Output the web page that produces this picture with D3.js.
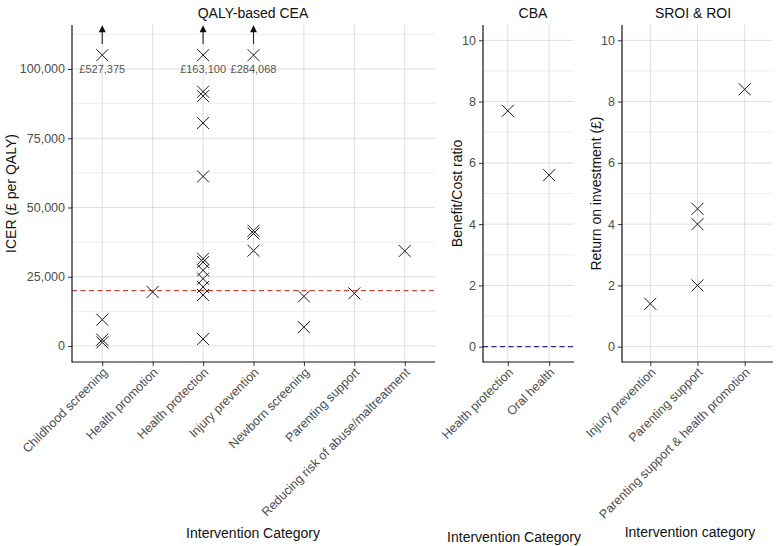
<!DOCTYPE html>
<html><head><meta charset="utf-8">
<script src="https://cdn.jsdelivr.net/npm/d3@7"></script>
<style>
body{margin:0;background:#fff}
text{font-family:"Liberation Sans",Arial,Helvetica,sans-serif}
</style>
</head><body>
<svg id="chart" width="778" height="546"></svg>
<script>
// ---------- DATA ----------
const ceaCategories = ["Childhood screening","Health promotion","Health protection","Injury prevention","Newborn screening","Parenting support","Reducing risk of abuse/maltreatment"];
// [category, ICER (£ per QALY)]
const ceaPoints = [
  ["Childhood screening", 9500], ["Childhood screening", 2300], ["Childhood screening", 1300],
  ["Health promotion", 19500],
  ["Health protection", 91800], ["Health protection", 90200], ["Health protection", 80500], ["Health protection", 61200],
  ["Health protection", 31500], ["Health protection", 30300], ["Health protection", 27300], ["Health protection", 24300],
  ["Health protection", 21300], ["Health protection", 18400], ["Health protection", 2500],
  ["Injury prevention", 41600], ["Injury prevention", 40600], ["Injury prevention", 34400],
  ["Newborn screening", 17900], ["Newborn screening", 6800],
  ["Parenting support", 19000],
  ["Reducing risk of abuse/maltreatment", 34300]
];
// off-scale values, drawn at the cap with an arrow
const ceaOffScale = [["Childhood screening","£527,375"],["Health protection","£163,100"],["Injury prevention","£284,068"]];
const ceaCapValue = 105000;
const ceaArrowFrom = 109000, ceaArrowTo = 115800;
const ceaThreshold = 20000;
const ceaTicks = [0, 25000, 50000, 75000, 100000];
const ceaMinorTicks = [12500, 37500, 62500, 87500, 112500];

const cbaCategories = ["Health protection","Oral health"];
const cbaPoints = [["Health protection", 7.7], ["Oral health", 5.6]];
const cbaThreshold = 0;

const sroiCategories = ["Injury prevention","Parenting support","Parenting support & health promotion"];
const sroiPoints = [["Injury prevention", 1.4], ["Parenting support", 2.0], ["Parenting support", 4.0], ["Parenting support", 4.5], ["Parenting support & health promotion", 8.4]];

const ratioTicks = [0, 2, 4, 6, 8, 10];
const ratioMinorTicks = [1, 3, 5, 7, 9];

// ---------- DRAW ----------
const svg = d3.select("#chart");
const plotTop = 25, plotBottom = 362;

function panel(opts){
  const g = svg.append("g");
  const x = d3.scalePoint().domain(opts.categories).range([opts.x0, opts.x1]).padding(0.6);
  const y = d3.scaleLinear().domain(opts.yDomain).range([plotBottom, plotTop]);
  // grid
  g.selectAll(".minor").data(opts.minor).join("line")
    .attr("x1", opts.x0).attr("x2", opts.x1).attr("y1", d=>y(d)).attr("y2", d=>y(d))
    .attr("stroke", "#e8e8e8").attr("stroke-width", 0.8);
  g.selectAll(".major").data(opts.ticks).join("line")
    .attr("x1", opts.x0).attr("x2", opts.x1).attr("y1", d=>y(d)).attr("y2", d=>y(d))
    .attr("stroke", "#dedede").attr("stroke-width", 1);
  g.selectAll(".vmajor").data(opts.categories).join("line")
    .attr("x1", d=>x(d)).attr("x2", d=>x(d)).attr("y1", plotTop).attr("y2", plotBottom)
    .attr("stroke", "#dedede").attr("stroke-width", 1);
  // threshold
  if (opts.threshold !== undefined) {
    g.append("line").attr("x1", opts.x0).attr("x2", opts.x1)
      .attr("y1", y(opts.threshold)).attr("y2", y(opts.threshold))
      .attr("stroke", opts.thresholdColor).attr("stroke-width", 1.3)
      .attr("stroke-dasharray", "5,3.5");
  }
  // axes
  const ay = g.append("g").attr("transform", `translate(${opts.x0},0)`)
    .call(d3.axisLeft(y).tickValues(opts.ticks).tickSize(4).tickPadding(3).tickFormat(opts.fmt));
  const ax = g.append("g").attr("transform", `translate(0,${plotBottom})`)
    .call(d3.axisBottom(x).tickSize(4).tickFormat(""));
  [ay, ax].forEach(a => {
    a.select(".domain").remove();
    a.selectAll(".tick line").attr("stroke", "#333");
    a.selectAll("text").attr("fill", "#4d4d4d").attr("font-size", "12.5px")
      .attr("font-family", '"Liberation Sans",Arial,sans-serif');
  });
  g.append("line").attr("x1", opts.x0).attr("x2", opts.x0).attr("y1", plotTop).attr("y2", plotBottom + 0.5)
    .attr("stroke", "#111").attr("stroke-width", 1.2);
  g.append("line").attr("x1", opts.x0).attr("x2", opts.x1).attr("y1", plotBottom).attr("y2", plotBottom)
    .attr("stroke", "#111").attr("stroke-width", 1.2);
  // rotated category labels
  g.selectAll(".xl").data(opts.categories).join("text")
    .attr("transform", d => `translate(${x(d)+6},${plotBottom+11}) rotate(-45)`)
    .attr("text-anchor", "end").attr("fill", "#4d4d4d").attr("font-size", "12.5px")
    .text(d => d);
  // markers
  const s = 6;
  g.selectAll(".pt").data(opts.points).join("path")
    .attr("d", d => {
      const cx = x(d[0]), cy = y(d[1]);
      return `M${cx-s},${cy-s}L${cx+s},${cy+s}M${cx-s},${cy+s}L${cx+s},${cy-s}`;
    })
    .attr("stroke", "#1a1a1a").attr("stroke-width", 1).attr("fill", "none");
  // titles
  g.append("text").attr("x", opts.titleX).attr("y", 18).attr("text-anchor", "middle")
    .attr("font-size", "14px").attr("fill", "#111").text(opts.title);
  g.append("text").attr("transform", `translate(${opts.yLabX},${(plotTop+plotBottom)/2}) rotate(-90)`)
    .attr("text-anchor", "middle").attr("font-size", "14px").attr("fill", "#111").text(opts.yLabel);
  g.append("text").attr("x", opts.xLabX).attr("y", opts.xLabY).attr("text-anchor", "middle")
    .attr("font-size", "14px").attr("fill", "#111").text(opts.xLabel);
  return {g, x, y};
}

const p1 = panel({
  categories: ceaCategories, x0: 72, x1: 435, yDomain: [-5780, 115880],
  ticks: ceaTicks, minor: ceaMinorTicks, fmt: d3.format(","),
  threshold: ceaThreshold, thresholdColor: "#c44a3c",
  points: ceaPoints.concat(ceaOffScale.map(d => [d[0], ceaCapValue])),
  title: "QALY-based CEA", titleX: 253, yLabel: "ICER (£ per QALY)", yLabX: 16,
  xLabel: "Intervention Category", xLabX: 253, xLabY: 538
});
// arrows + labels for off-scale values
ceaOffScale.forEach(d => {
  const cx = p1.x(d[0]);
  const y0 = p1.y(ceaArrowFrom), y1 = p1.y(ceaArrowTo);
  p1.g.append("line").attr("x1", cx).attr("x2", cx).attr("y1", y0).attr("y2", y1 + 6)
    .attr("stroke", "#222").attr("stroke-width", 1.1);
  p1.g.append("path").attr("d", `M${cx},${y1}L${cx-3.5},${y1+7}L${cx+3.5},${y1+7}Z`).attr("fill", "#111");
  p1.g.append("text").attr("x", cx).attr("y", p1.y(100000) + 4).attr("text-anchor", "middle")
    .attr("font-size", "11px").attr("fill", "#555").text(d[1]);
});

panel({
  categories: cbaCategories, x0: 483, x1: 574, yDomain: [-0.5, 10.5],
  ticks: ratioTicks, minor: ratioMinorTicks, fmt: d3.format("d"),
  threshold: cbaThreshold, thresholdColor: "#2a2a78",
  points: cbaPoints,
  title: "CBA", titleX: 533, yLabel: "Benefit/Cost ratio", yLabX: 462,
  xLabel: "Intervention Category", xLabX: 514, xLabY: 542
});

panel({
  categories: sroiCategories, x0: 622, x1: 773, yDomain: [-0.5, 10.5],
  ticks: ratioTicks, minor: ratioMinorTicks, fmt: d3.format("d"),
  points: sroiPoints,
  title: "SROI & ROI", titleX: 693, yLabel: "Return on investment (£)", yLabX: 601,
  xLabel: "Intervention category", xLabX: 690, xLabY: 537
});
</script>
</body></html>
